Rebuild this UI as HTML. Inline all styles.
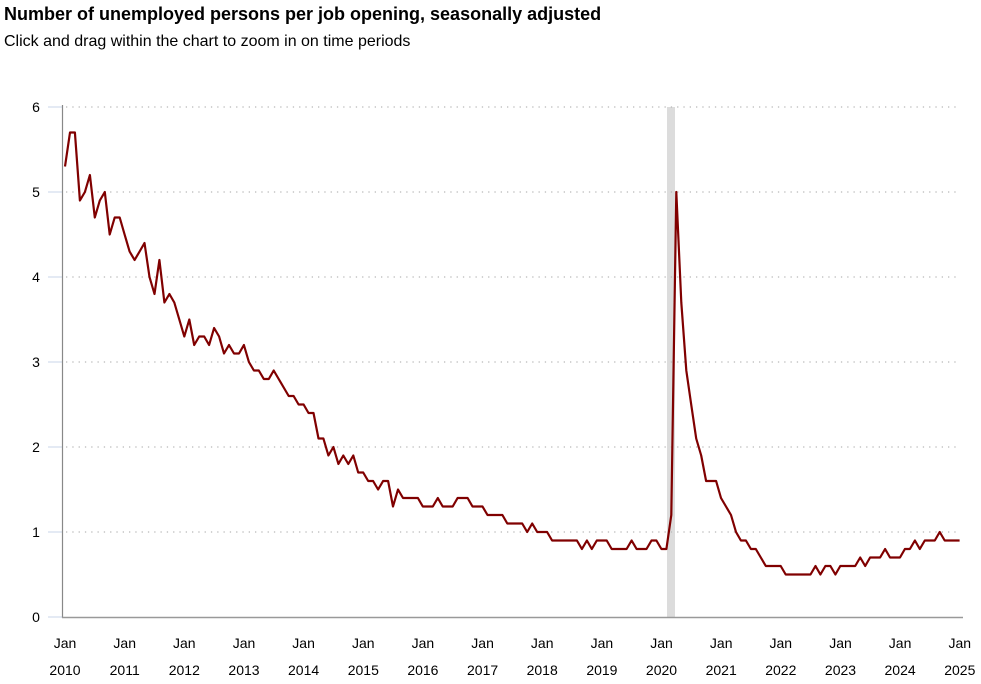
<!DOCTYPE html>
<html><head><meta charset="utf-8"><style>
body{margin:0;background:#fff;font-family:"Liberation Sans",Arial,sans-serif;}
</style></head><body>
<svg width="981" height="679" xmlns="http://www.w3.org/2000/svg" font-family="Liberation Sans, Arial, sans-serif">
<text x="4" y="20" font-size="18" font-weight="bold" fill="#000">Number of unemployed persons per job opening, seasonally adjusted</text>
<text x="4" y="46" font-size="16" fill="#000">Click and drag within the chart to zoom in on time periods</text>
<rect x="667" y="107" width="8" height="510" fill="#dcdcdc"/>
<g stroke="#b8b8b8" stroke-width="1.3" stroke-dasharray="1.3,5">
<line x1="66" y1="107" x2="960" y2="107"/>
<line x1="66" y1="192" x2="960" y2="192"/>
<line x1="66" y1="277" x2="960" y2="277"/>
<line x1="66" y1="362" x2="960" y2="362"/>
<line x1="66" y1="447" x2="960" y2="447"/>
<line x1="66" y1="532" x2="960" y2="532"/>
</g>
<g stroke="#c8d4e8" stroke-width="1">
<line x1="48" y1="107" x2="62" y2="107"/><line x1="48" y1="192" x2="62" y2="192"/><line x1="48" y1="277" x2="62" y2="277"/><line x1="48" y1="362" x2="62" y2="362"/><line x1="48" y1="447" x2="62" y2="447"/><line x1="48" y1="532" x2="62" y2="532"/><line x1="48" y1="617" x2="62" y2="617"/>
</g>
<line x1="62.5" y1="105" x2="62.5" y2="618" stroke="#888" stroke-width="1.2"/>
<line x1="62" y1="617.5" x2="963" y2="617.5" stroke="#999" stroke-width="1.5"/>
<g font-size="14" fill="#000" text-anchor="middle">
<text x="36" y="112">6</text><text x="36" y="197">5</text><text x="36" y="282">4</text><text x="36" y="367">3</text><text x="36" y="452">2</text><text x="36" y="537">1</text><text x="36" y="622">0</text>
</g>
<g font-size="14" fill="#000" text-anchor="middle">
<text x="65" y="648">Jan</text><text x="65" y="675">2010</text>
<text x="124.7" y="648">Jan</text><text x="124.7" y="675">2011</text>
<text x="184.3" y="648">Jan</text><text x="184.3" y="675">2012</text>
<text x="244" y="648">Jan</text><text x="244" y="675">2013</text>
<text x="303.6" y="648">Jan</text><text x="303.6" y="675">2014</text>
<text x="363.3" y="648">Jan</text><text x="363.3" y="675">2015</text>
<text x="422.9" y="648">Jan</text><text x="422.9" y="675">2016</text>
<text x="482.6" y="648">Jan</text><text x="482.6" y="675">2017</text>
<text x="542.2" y="648">Jan</text><text x="542.2" y="675">2018</text>
<text x="601.9" y="648">Jan</text><text x="601.9" y="675">2019</text>
<text x="661.5" y="648">Jan</text><text x="661.5" y="675">2020</text>
<text x="721.2" y="648">Jan</text><text x="721.2" y="675">2021</text>
<text x="780.8" y="648">Jan</text><text x="780.8" y="675">2022</text>
<text x="840.5" y="648">Jan</text><text x="840.5" y="675">2023</text>
<text x="900.1" y="648">Jan</text><text x="900.1" y="675">2024</text>
<text x="959.8" y="648">Jan</text><text x="959.8" y="675">2025</text>
</g>
<polyline fill="none" stroke="#800000" stroke-width="2.2" stroke-linejoin="round" points="
65.0,166.5 70.0,132.5 74.9,132.5 79.9,200.5 84.9,192 89.9,175 94.8,217.5 99.8,200.5 104.8,192 109.7,234.5 114.7,217.5 119.7,217.5
124.6,234.5 129.6,251.5 134.6,260 139.6,251.5 144.5,243 149.5,277 154.5,294 159.4,260 164.4,302.5 169.4,294 174.3,302.5 179.3,319.5
184.3,336.5 189.3,319.5 194.2,345 199.2,336.5 204.2,336.5 209.1,345 214.1,328 219.1,336.5 224.0,353.5 229.0,345 234.0,353.5 239.0,353.5
243.9,345 248.9,362 253.9,370.5 258.8,370.5 263.8,379 268.8,379 273.7,370.5 278.7,379 283.7,387.5 288.7,396 293.6,396 298.6,404.5
303.6,404.5 308.5,413 313.5,413 318.5,438.5 323.4,438.5 328.4,455.5 333.4,447 338.4,464 343.3,455.5 348.3,464 353.3,455.5 358.2,472.5
363.2,472.5 368.2,481 373.1,481 378.1,489.5 383.1,481 388.1,481 393.0,506.5 398.0,489.5 403.0,498 407.9,498 412.9,498 417.9,498
422.8,506.5 427.8,506.5 432.8,506.5 437.8,498 442.7,506.5 447.7,506.5 452.7,506.5 457.6,498 462.6,498 467.6,498 472.5,506.5 477.5,506.5
482.5,506.5 487.5,515 492.4,515 497.4,515 502.4,515 507.3,523.5 512.3,523.5 517.3,523.5 522.2,523.5 527.2,532 532.2,523.5 537.2,532
542.1,532 547.1,532 552.1,540.5 557.0,540.5 562.0,540.5 567.0,540.5 571.9,540.5 576.9,540.5 581.9,549 586.9,540.5 591.8,549 596.8,540.5
601.8,540.5 606.7,540.5 611.7,549 616.7,549 621.6,549 626.6,549 631.6,540.5 636.6,549 641.5,549 646.5,549 651.5,540.5 656.4,540.5
661.4,549 666.4,549 671.3,515 676.3,192 681.3,302.5 686.3,370.5 691.2,404.5 696.2,438.5 701.2,455.5 706.1,481 711.1,481 716.1,481
721.0,498 726.0,506.5 731.0,515 736.0,532 740.9,540.5 745.9,540.5 750.9,549 755.8,549 760.8,557.5 765.8,566 770.7,566 775.7,566
780.7,566 785.7,574.5 790.6,574.5 795.6,574.5 800.6,574.5 805.5,574.5 810.5,574.5 815.5,566 820.4,574.5 825.4,566 830.4,566 835.4,574.5
840.3,566 845.3,566 850.3,566 855.2,566 860.2,557.5 865.2,566 870.1,557.5 875.1,557.5 880.1,557.5 885.1,549 890.0,557.5 895.0,557.5
900.0,557.5 904.9,549 909.9,549 914.9,540.5 919.8,549 924.8,540.5 929.8,540.5 934.8,540.5 939.7,532 944.7,540.5 949.7,540.5 954.6,540.5 959.6,540.5"/>
</svg>
</body></html>
